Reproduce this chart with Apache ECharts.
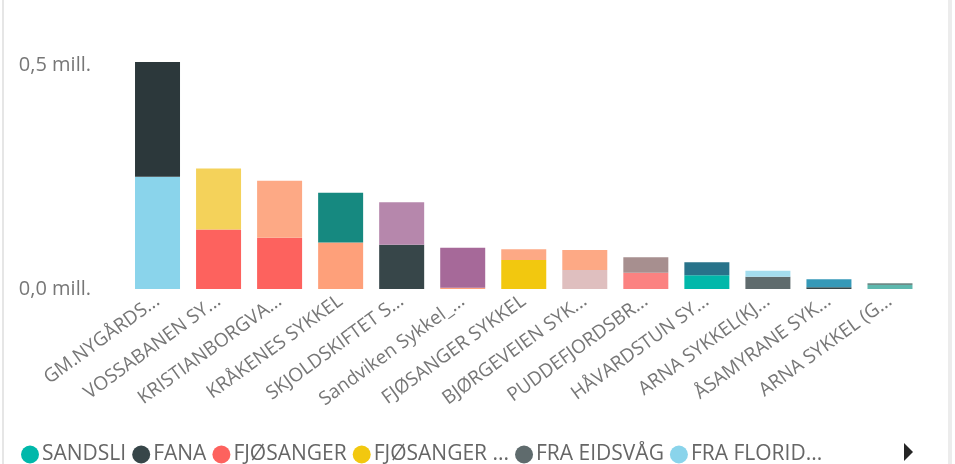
<!DOCTYPE html>
<html>
<head>
<meta charset="utf-8">
<script src="https://cdn.jsdelivr.net/npm/echarts@6/dist/echarts.min.js"></script>
<style>
html,body{margin:0;padding:0;background:#fff;}
#chart{width:955px;height:464px;}
</style>
</head>
<body>
<div id="chart"></div>
<script>
// Categories (as shown, truncated)
const categories = ["GM.NYGÅRDS...", "VOSSABANEN SY...", "KRISTIANBORGVA...", "KRÅKENES SYKKEL", "SKJOLDSKIFTET S...", "Sandviken Sykkel_...", "FJØSANGER SYKKEL", "BJØRGEVEIEN SYK...", "PUDDEFJORDSBR...", "HÅVARDSTUN SY...", "ARNA SYKKEL(KJ...", "ÅSAMYRANE SYK...", "ARNA SYKKEL (G..."];

// Series values (one value per category, null = no segment)
const sandsli      = [null, null, null, null, null, null, null, null, null, 30600, null, null, null];
const fana         = [null, null, null, null, 99000, null, null, null, null, null, null, 4000, null];
const fjosanger    = [null, 133000, 114500, null, null, null, null, null, null, null, null, null, null];
const fjosanger2   = [null, null, null, null, null, null, 64700, null, null, null, null, null, null];
const fraEidsvag   = [null, null, null, null, null, null, null, null, null, null, 27500, null, null];
const fraFlorida   = [250700, null, null, null, null, null, null, null, null, null, null, null, null];
const serie7       = [null, null, null, 104000, null, 3000, null, null, null, null, null, null, null];
const serie8       = [null, null, null, null, null, 89000, null, null, null, null, null, null, null];
const serie9       = [null, null, null, null, null, null, null, null, null, null, null, 17700, null];
const serie10      = [null, null, null, null, null, null, null, 42400, null, null, null, null, null];
const serie11      = [null, null, null, null, null, null, null, null, null, null, null, null, 9000];
const serie13      = [null, null, null, null, null, null, null, null, 36400, null, null, null, null];
const serie14      = [null, 136000, null, null, null, null, null, null, null, null, null, null, null];
const serie15      = [null, null, null, null, null, null, null, null, null, null, null, null, 3700];
const serie16      = [null, null, null, null, null, null, null, null, null, null, 13500, null, null];
const serie17      = [null, null, 127000, null, null, null, 24000, 44600, null, null, null, null, null];
const serie18      = [null, null, null, null, 94500, null, null, null, null, null, null, null, null];
const serie19      = [null, null, null, null, null, null, null, null, null, 29000, null, null, null];
const serie20      = [null, null, null, null, null, null, null, null, 34400, null, null, null, null];
const serie21      = [null, null, null, 111000, null, null, null, null, null, null, null, null, null];
const serie22      = [256000, null, null, null, null, null, null, null, null, null, null, null, null];

// Series names and colours
const seriesNames = ["SANDSLI", "FANA", "FJØSANGER", "FJØSANGER ...", "FRA EIDSVÅG", "FRA FLORID...",
  "Serie 7", "Serie 8", "Serie 9", "Serie 10", "Serie 11", "Serie 13", "Serie 14", "Serie 15",
  "Serie 16", "Serie 17", "Serie 18", "Serie 19", "Serie 20", "Serie 21", "Serie 22"];
const seriesData = [sandsli, fana, fjosanger, fjosanger2, fraEidsvag, fraFlorida,
  serie7, serie8, serie9, serie10, serie11, serie13, serie14, serie15,
  serie16, serie17, serie18, serie19, serie20, serie21, serie22];
const seriesColors = ["#01B8AA", "#374649", "#FD625E", "#F2C80F", "#5F6B6D", "#8AD4EB",
  "#FEA07A", "#A66999", "#3599B8", "#DFBFBF", "#5DB8AE", "#FB8281", "#F4D25A", "#6D8A86",
  "#A4DDEE", "#FDA985", "#B687AC", "#28738A", "#A78F8F", "#168980", "#2C383B"];
const legendNames = seriesNames.slice(0, 6);

// Y tick labels
const yTicks = [0, 500000];

const FONT = "'Open Sans', 'Noto Sans', sans-serif";

const chart = echarts.init(document.getElementById('chart'), null, {renderer: 'canvas'});
chart.setOption({
  animation: false,
  backgroundColor: '#ffffff',
  grid: {left: 127, right: 34.5, top: 56, bottom: 175, containLabel: false},
  legend: {
    data: legendNames,
    left: 16, top: 439,
    icon: 'circle',
    itemWidth: 18, itemHeight: 18, itemGap: 6,
    textStyle: {color: '#666666', fontSize: 21, fontFamily: FONT, padding: [0, 0, 0, -2]}
  },
  xAxis: {
    type: 'category',
    data: categories,
    axisLine: {show: false},
    axisTick: {show: false},
    axisLabel: {interval: 0, rotate: 36, margin: 10, color: '#777777', fontSize: 19, fontFamily: FONT}
  },
  yAxis: {
    type: 'value',
    min: 0, max: 520000, interval: 500000,
    splitLine: {show: false},
    axisLine: {show: false},
    axisTick: {show: false},
    axisLabel: {
      margin: 36, color: '#777777', fontSize: 20, fontFamily: FONT,
      formatter: function (v) {
        if (yTicks.indexOf(v) < 0) return '';
        return (v / 1e6).toFixed(1).replace('.', ',') + ' mill.';
      }
    }
  },
  series: seriesNames.map(function (n, i) {
    return {
      name: n, type: 'bar', stack: 'total', barWidth: 45,
      itemStyle: {color: seriesColors[i]},
      data: seriesData[i]
    };
  }),
  graphic: [
    {type: 'rect', shape: {x: 2, y: 0, width: 2, height: 464}, style: {fill: '#e6e6e6'}, silent: true},
    {type: 'rect', shape: {x: 948, y: 0, width: 4, height: 464}, style: {fill: '#ececec'}, silent: true},
    {type: 'polygon', shape: {points: [[904, 443], [904, 461], [913, 452]]}, style: {fill: '#252525'}, silent: true}
  ]
});
</script>
</body>
</html>
